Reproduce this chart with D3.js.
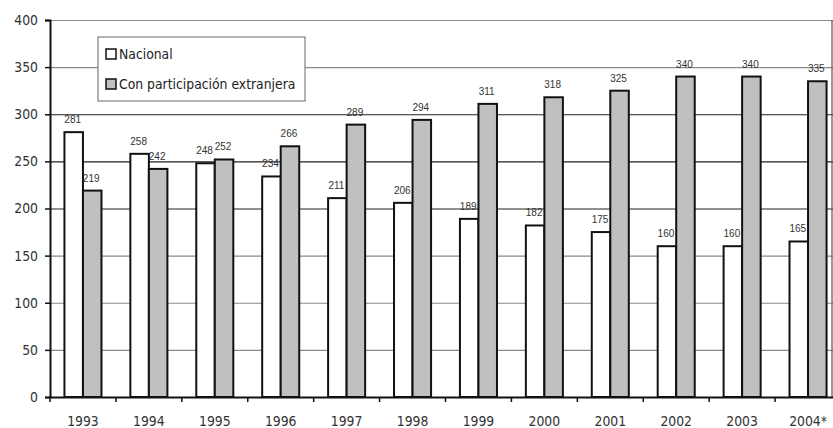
<!DOCTYPE html>
<html>
<head>
<meta charset="utf-8">
<script src="https://cdn.jsdelivr.net/npm/d3@7"></script>
<style>
  html, body { margin: 0; padding: 0; background: #fff; }
  svg { display: block; }
</style>
</head>
<body>
<svg id="chart" width="833" height="428"></svg>
<script>
// Empresas por origen del capital, 1993–2004
const years = ["1993", "1994", "1995", "1996", "1997", "1998", "1999", "2000", "2001", "2002", "2003", "2004*"];
const nacional = [281, 258, 248, 234, 211, 206, 189, 182, 175, 160, 160, 165];
const extranjera = [219, 242, 252, 266, 289, 294, 311, 318, 325, 340, 340, 335];
const seriesNames = ["Nacional", "Con participación extranjera"];
const seriesColors = ["#ffffff", "#c0c0c0"];
const yTicks = [0, 50, 100, 150, 200, 250, 300, 350, 400];

const svg = d3.select("#chart");
const font = "'DejaVu Sans Condensed', 'DejaVu Sans', sans-serif";
const plotLeft = 50, plotTop = 20, plotBottom = 397, plotRight = 841;

const x = d3.scaleBand().domain(years).range([plotLeft, plotRight]).paddingInner(0).paddingOuter(0);
const inner = d3.scaleBand().domain([0, 1]).range([0, x.bandwidth()]).paddingOuter(0.78).paddingInner(0);
const y = d3.scaleLinear().domain([0, 400]).range([plotBottom, plotTop]);

// gridlines
svg.append("g").selectAll("line").data(yTicks.filter(d => d > 0)).join("line")
  .attr("x1", plotLeft).attr("x2", 833)
  .attr("y1", d => y(d) + 0.5).attr("y2", d => y(d) + 0.5)
  .attr("stroke", d => (d >= 200 && d <= 300) ? "#222" : "#8a8a8a")
  .attr("stroke-width", 1.2);

// right border of the plot area
svg.append("line").attr("x1", 832).attr("x2", 832).attr("y1", plotTop).attr("y2", plotBottom)
  .attr("stroke", "#555").attr("stroke-width", 1.2);

// bars
const groups = svg.append("g").selectAll("g").data(years).join("g")
  .attr("transform", d => `translate(${x(d)},0)`);

[nacional, extranjera].forEach((vals, s) => {
  groups.append("rect")
    .attr("x", inner(s))
    .attr("width", inner.bandwidth())
    .attr("y", (d, i) => y(vals[i]))
    .attr("height", (d, i) => plotBottom - y(vals[i]))
    .attr("fill", seriesColors[s])
    .attr("stroke", "#111")
    .attr("stroke-width", 2);
  groups.append("text")
    .attr("x", inner(s) + inner.bandwidth() / 2 - 1)
    .attr("y", (d, i) => y(vals[i]) - 9)
    .attr("text-anchor", "middle")
    .attr("font-family", "'Liberation Sans', Arial, sans-serif")
    .attr("font-size", 10)
    .attr("fill", "#333")
    .text((d, i) => vals[i]);
});

// axes
const yAxis = svg.append("g").attr("transform", `translate(${plotLeft},0)`)
  .call(d3.axisLeft(y).tickValues(yTicks).tickSize(5).tickPadding(7));
yAxis.select(".domain").attr("stroke", "#111").attr("stroke-width", 2);
yAxis.selectAll(".tick line").attr("stroke", "#111").attr("stroke-width", 1.5);
yAxis.selectAll("text").attr("font-family", font).attr("font-size", 13.8).attr("fill", "#333");

const xAxis = svg.append("g").attr("transform", `translate(0,${plotBottom})`)
  .call(d3.axisBottom(x).tickSize(0).tickPadding(19));
xAxis.select(".domain").attr("stroke", "#111").attr("stroke-width", 2);
xAxis.selectAll("text").attr("font-family", font).attr("font-size", 13.8).attr("fill", "#333");
// category boundary ticks
xAxis.append("g").selectAll("line").data(years).join("line")
  .attr("x1", d => x(d)).attr("x2", d => x(d))
  .attr("y1", 0).attr("y2", 5)
  .attr("stroke", "#111").attr("stroke-width", 1.5);

// legend
const legend = svg.append("g").attr("transform", "translate(98,37)");
legend.append("rect").attr("width", 207).attr("height", 64)
  .attr("fill", "#fff").attr("stroke", "#666").attr("stroke-width", 1);
seriesNames.forEach((name, i) => {
  const g = legend.append("g").attr("transform", `translate(8,${12 + i * 30})`);
  g.append("rect").attr("width", 10).attr("height", 10)
    .attr("fill", seriesColors[i]).attr("stroke", "#111").attr("stroke-width", 1.5);
  g.append("text").attr("x", 13).attr("y", 10)
    .attr("font-family", font).attr("font-size", 13.8).attr("fill", "#222")
    .text(name);
});
</script>
</body>
</html>
